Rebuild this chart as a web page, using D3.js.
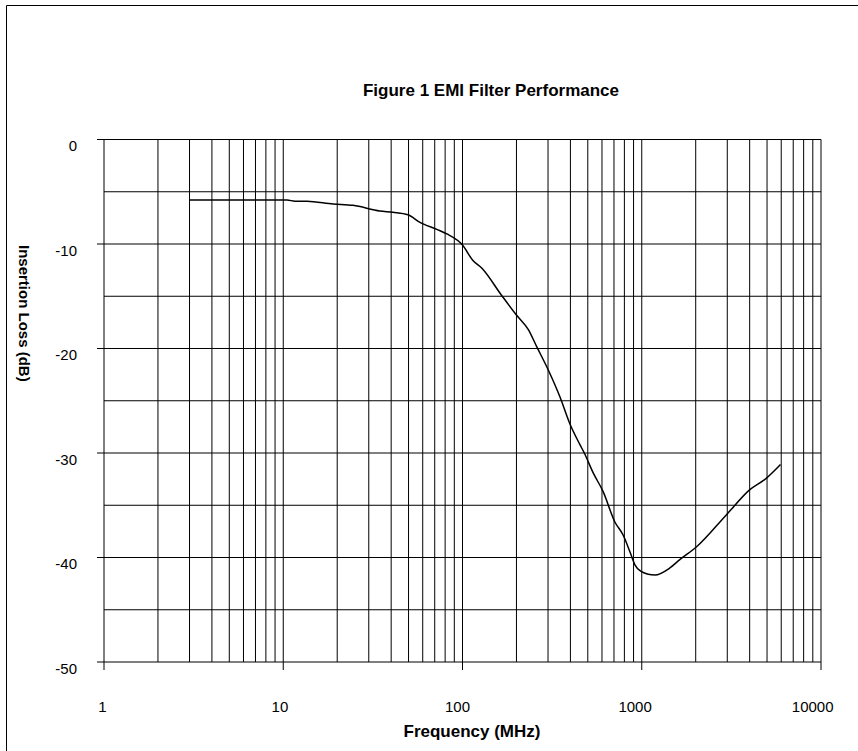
<!DOCTYPE html>
<html>
<head>
<meta charset="utf-8">
<script src="https://cdn.jsdelivr.net/npm/d3@7"></script>
<style>
    body { margin: 0; background: #fff; }
    svg { display: block; font-family: Arial, 'Liberation Sans', sans-serif; }
</style>
</head>
<body>
<div id="chart"></div>
<script>
const TITLE = 'Figure 1 EMI Filter Performance';
const X_TITLE = 'Frequency (MHz)';
const Y_TITLE = 'Insertion Loss (dB)';

// measured curve, frequency in MHz and insertion loss in dB
const freq = [3, 10.5, 11.6, 13.6, 19, 24.5, 34.6, 40.9, 49.6, 57.9, 71.9, 81.8, 100, 114, 128, 165, 200, 233, 259, 301,
    349, 397, 452, 478, 536, 609, 708, 787, 859, 916, 998, 1086, 1184, 1435, 1631, 2023, 2970, 4009, 4966, 5946];
const loss = [-5.8, -5.8, -5.9, -5.92, -6.17, -6.3, -6.84, -6.97, -7.2, -7.93, -8.6, -9.04, -10.1, -11.55, -12.3, -14.9, -16.8, -18.2, -19.8, -22.06,
    -24.6, -27.2, -29.2, -30.0, -31.9, -33.7, -36.6, -37.85, -39.45, -40.7, -41.36, -41.6, -41.67, -41.0, -40.2, -38.97, -35.9, -33.5, -32.4, -31.1];

const xTicks = [1, 10, 100, 1000, 10000];
const yTicks = [0, -10, -20, -30, -40, -50];
const yGrid = [0, -5, -10, -15, -20, -25, -30, -35, -40, -45, -50];

const [width, height] = [858, 751];
const plot = { left: 104, right: 821, top: 139.5, bottom: 662 };

const svg = d3.select('#chart').append('svg')
    .attr('width', width)
    .attr('height', height);

// outer frame (only left and top edges show inside the window)
svg.append('path')
    .attr('d', `M6.5 ${height} L6.5 5.5 L${width} 5.5`)
    .attr('fill', 'none')
    .attr('stroke', '#000')
    .attr('stroke-width', 1);

const x = d3.scaleLog().domain([1, 10000]).range([plot.left, plot.right]);
const y = d3.scaleLinear().domain([-50, 0]).range([plot.bottom, plot.top]);

const xGrid = [];
xTicks.slice(0, -1).forEach(d => {
    for (let k = 1; k < 10; k++) xGrid.push(d * k);
});
xGrid.push(10000);

const grid = svg.append('g').attr('class', 'grid')
    .attr('stroke', '#000')
    .attr('stroke-width', 1);

grid.selectAll('.hline').data(yGrid).join('line')
    .attr('class', 'hline')
    .attr('x1', plot.left).attr('x2', plot.right)
    .attr('y1', d => y(d)).attr('y2', d => y(d));

grid.selectAll('.vline').data(xGrid).join('line')
    .attr('class', 'vline')
    .attr('x1', d => x(d)).attr('x2', d => x(d))
    .attr('y1', plot.top).attr('y2', plot.bottom);

// tick marks on the axes
grid.selectAll('.ytick').data(yTicks).join('line')
    .attr('class', 'ytick')
    .attr('x1', plot.left - 7).attr('x2', plot.left)
    .attr('y1', d => y(d)).attr('y2', d => y(d));

grid.selectAll('.xtick').data(xTicks).join('line')
    .attr('class', 'xtick')
    .attr('x1', d => x(d)).attr('x2', d => x(d))
    .attr('y1', plot.bottom).attr('y2', plot.bottom + 8);

// tick labels
svg.append('g').selectAll('text').data(yTicks).join('text')
    .attr('x', 77)
    .attr('y', d => y(d) + 11.5)
    .attr('text-anchor', 'end')
    .style('font-size', '15px')
    .text(d => d);

svg.append('g').selectAll('text').data(xTicks).join('text')
    .attr('x', d => x(d))
    .attr('y', 712)
    .attr('text-anchor', 'middle')
    .style('font-size', '15px')
    .text(d => d)
    .attr('dx', function() { return -0.2 * this.getComputedTextLength(); });

// curve
const line = d3.line()
    .x((d, i) => x(freq[i]))
    .y(d => y(d))
    .curve(d3.curveMonotoneX);

svg.append('path')
    .datum(loss)
    .attr('d', line)
    .attr('fill', 'none')
    .attr('stroke', '#000')
    .attr('stroke-width', 1.5)
    .attr('stroke-linejoin', 'round');

// titles
svg.append('text')
    .attr('x', 491).attr('y', 96)
    .attr('text-anchor', 'middle')
    .style('font-size', '17px').style('font-weight', 'bold')
    .text(TITLE);

svg.append('text')
    .attr('x', 472).attr('y', 737)
    .attr('text-anchor', 'middle')
    .style('font-size', '17px').style('font-weight', 'bold')
    .text(X_TITLE);

svg.append('text')
    .attr('transform', 'translate(19, 245) rotate(90)')
    .attr('text-anchor', 'start')
    .style('font-size', '15px').style('font-weight', 'bold')
    .text(Y_TITLE);
</script>
</body>
</html>
